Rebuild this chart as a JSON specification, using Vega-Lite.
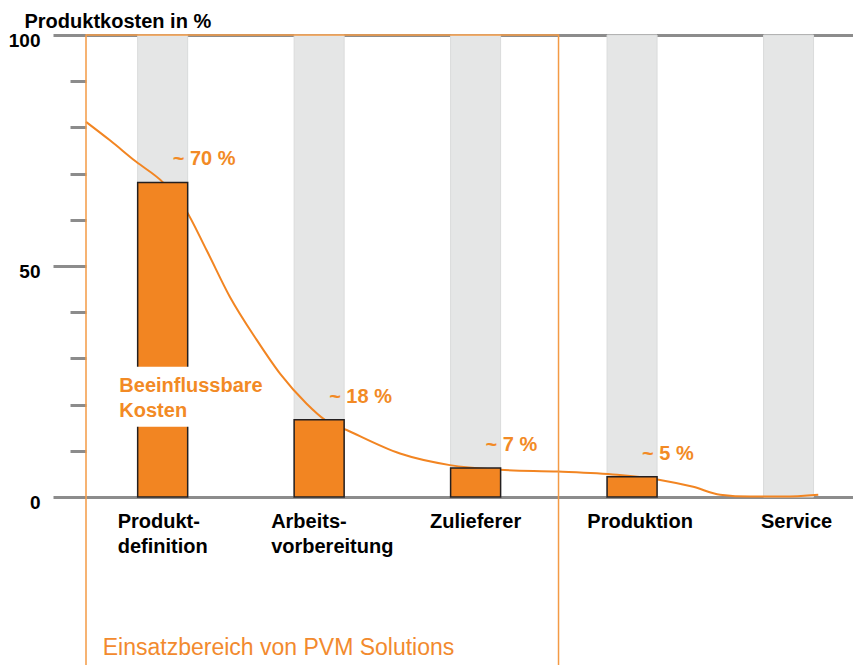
{
  "$schema": "https://vega.github.io/schema/vega-lite/v6.json",
  "width": 767,
  "height": 462,
  "autosize": {"type": "none"},
  "padding": {"left": 86, "top": 35, "right": 0, "bottom": 168},
  "background": "white",
  "config": {"view": {"stroke": null}, "font": "Liberation Sans", "scale": {"continuousPadding": 0}},
  "datasets": {
    "stages": [
      {"stage": 1, "name": "Produkt-\ndefinition", "cost": 68.1, "pct": "~ 70 %"},
      {"stage": 2, "name": "Arbeits-\nvorbereitung", "cost": 16.7, "pct": "~ 18 %"},
      {"stage": 3, "name": "Zulieferer", "cost": 6.3, "pct": "~ 7 %"},
      {"stage": 4, "name": "Produktion", "cost": 4.4, "pct": "~ 5 %"},
      {"stage": 5, "name": "Service", "cost": null, "pct": null}
    ],
    "curve": [
      {"stage": 0.51, "influence": 81.2},
      {"stage": 0.663, "influence": 77.2},
      {"stage": 0.829, "influence": 72.6},
      {"stage": 1.002, "influence": 68.1},
      {"stage": 1.143, "influence": 62.4},
      {"stage": 1.281, "influence": 53.4},
      {"stage": 1.43, "influence": 43.3},
      {"stage": 1.601, "influence": 34.0},
      {"stage": 1.75, "influence": 26.7},
      {"stage": 1.92, "influence": 20.2},
      {"stage": 2.037, "influence": 16.7},
      {"stage": 2.176, "influence": 14.5},
      {"stage": 2.517, "influence": 9.4},
      {"stage": 2.836, "influence": 6.9},
      {"stage": 3.156, "influence": 5.9},
      {"stage": 3.527, "influence": 5.5},
      {"stage": 3.904, "influence": 4.8},
      {"stage": 4.179, "influence": 3.7},
      {"stage": 4.391, "influence": 2.2},
      {"stage": 4.563, "influence": 0.5},
      {"stage": 4.755, "influence": 0.1},
      {"stage": 4.966, "influence": 0.1},
      {"stage": 5.19, "influence": 0.5}
    ]
  },
  "layer": [
    {
      "data": {"name": "stages"},
      "mark": {"type": "bar", "width": 50, "fill": "#e5e6e6", "stroke": "#dadbdb", "strokeWidth": 1},
      "encoding": {
        "x": {
          "field": "stage",
          "type": "quantitative",
          "scale": {"domain": [0.51, 5.412], "nice": false, "zero": false, "padding": 0},
          "axis": null
        },
        "y": {
          "datum": 100,
          "type": "quantitative",
          "scale": {"domain": [0, 100], "nice": false, "padding": 0},
          "axis": {
            "values": [0, 10, 20, 30, 40, 50, 60, 70, 80, 90, 100],
            "domain": false,
            "ticks": true,
            "tickColor": "#8c8c8c",
            "tickWidth": 3,
            "tickSize": {"condition": {"test": "datum.value % 50 === 0", "value": 33}, "value": 16},
            "labelExpr": "datum.value % 50 === 0 ? datum.label : ''",
            "labelFont": "Liberation Sans",
            "labelFontWeight": "bold",
            "labelFontSize": 19,
            "labelColor": "#000000",
            "labelPadding": 13,
            "labelBaseline": "middle",
            "labelOffset": 5,
            "labelFlush": false,
            "labelOverlap": false,
            "grid": true,
            "gridColor": "#8c8c8c",
            "gridWidth": 3,
            "gridOpacity": {"condition": {"test": "datum.value === 0 || datum.value === 100", "value": 1}, "value": 0},
            "title": "Produktkosten in %",
            "titleAngle": 0,
            "titleX": -62,
            "titleY": -8,
            "titleAlign": "left",
            "titleBaseline": "alphabetic",
            "titleFont": "Liberation Sans",
            "titleFontSize": 20,
            "titleFontWeight": "bold",
            "titleColor": "#000000"
          }
        },
        "y2": {"datum": 0}
      }
    },
    {
      "data": {"name": "curve"},
      "mark": {"type": "line", "interpolate": "monotone", "color": "#f28522", "strokeWidth": 2},
      "encoding": {
        "x": {"field": "stage", "type": "quantitative"},
        "y": {"field": "influence", "type": "quantitative"}
      }
    },
    {
      "data": {"name": "stages"},
      "transform": [{"filter": "isValid(datum.cost)"}],
      "mark": {"type": "bar", "width": 50, "fill": "#f28522", "stroke": "#231f20", "strokeWidth": 1.5},
      "encoding": {
        "x": {"field": "stage", "type": "quantitative"},
        "y": {"field": "cost", "type": "quantitative"},
        "y2": {"datum": 0}
      }
    },
    {
      "data": {"values": [{"k": 1}]},
      "mark": {"type": "rect", "fill": "white", "strokeWidth": 0},
      "encoding": {
        "x": {"datum": 0.69, "type": "quantitative"},
        "x2": {"datum": 1.68},
        "y": {"datum": 15.2, "type": "quantitative"},
        "y2": {"datum": 28.2}
      }
    },
    {
      "data": {"values": [{"k": 1}]},
      "mark": {"type": "text", "align": "left", "baseline": "alphabetic", "font": "Liberation Sans", "fontWeight": "bold", "fontSize": 20, "color": "#f28a25", "lineHeight": 25},
      "encoding": {
        "x": {"datum": 0.723, "type": "quantitative"},
        "y": {"datum": 22.8, "type": "quantitative"},
        "text": {"value": ["Beeinflussbare", "Kosten"]}
      }
    },
    {
      "data": {"name": "stages"},
      "transform": [{"filter": "isValid(datum.cost)"}],
      "mark": {"type": "text", "align": "left", "baseline": "alphabetic", "dx": 10, "dy": -17, "font": "Liberation Sans", "fontWeight": "bold", "fontSize": 20, "color": "#f28a25"},
      "encoding": {
        "x": {"field": "stage", "type": "quantitative"},
        "y": {"field": "cost", "type": "quantitative"},
        "text": {"field": "pct"}
      }
    },
    {
      "data": {"name": "stages"},
      "mark": {"type": "text", "align": {"expr": "datum.stage <= 2 ? 'left' : 'center'"}, "baseline": "alphabetic", "dy": 31, "dx": {"expr": "datum.stage === 1 ? -45 : datum.stage === 2 ? -48 : datum.stage >= 4 ? 8 : 0"}, "lineBreak": "\n", "lineHeight": 24.7, "font": "Liberation Sans", "fontWeight": "bold", "fontSize": 20, "color": "#000000"},
      "encoding": {
        "x": {"field": "stage", "type": "quantitative"},
        "y": {"datum": 0, "type": "quantitative"},
        "text": {"field": "name"}
      }
    },
    {
      "data": {"values": [{"k": 1}]},
      "mark": {"type": "rect", "fill": "white", "fillOpacity": 0, "stroke": "#f39a45", "strokeWidth": 1.5},
      "encoding": {
        "x": {"datum": 0.51, "type": "quantitative"},
        "x2": {"datum": 3.53},
        "y": {"datum": 100, "type": "quantitative"},
        "y2": {"datum": -40}
      }
    },
    {
      "data": {"values": [{"k": 1}]},
      "mark": {"type": "text", "align": "left", "baseline": "alphabetic", "font": "Liberation Sans", "fontSize": 23, "color": "#f28a2e"},
      "encoding": {
        "x": {"datum": 0.617, "type": "quantitative"},
        "y": {"datum": -34.1, "type": "quantitative"},
        "text": {"value": "Einsatzbereich von PVM Solutions"}
      }
    }
  ]
}
